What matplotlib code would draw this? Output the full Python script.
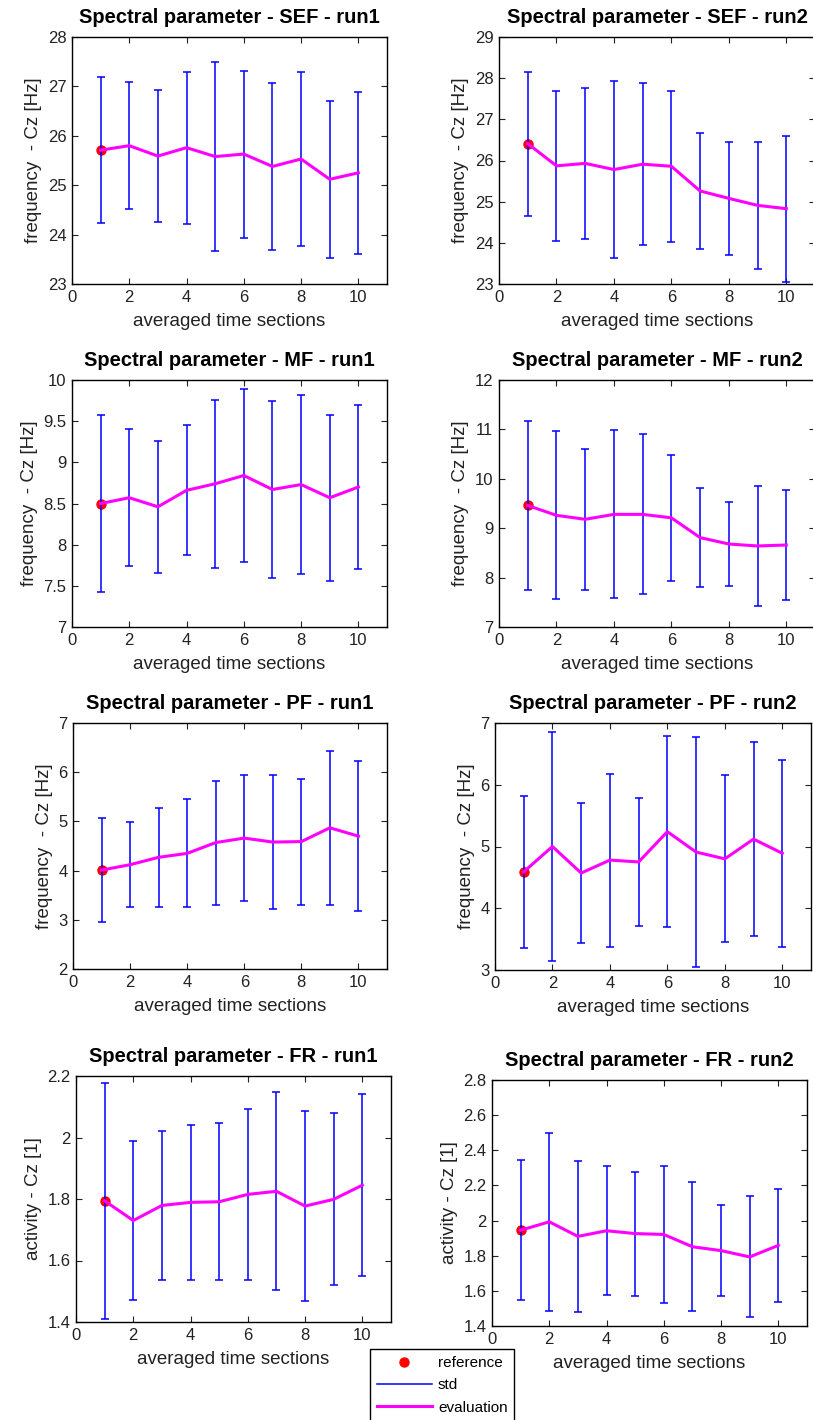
import numpy as np
import matplotlib
matplotlib.use("Agg")
import matplotlib.pyplot as plt
from matplotlib.ticker import FormatStrFormatter, MultipleLocator

plt.rcParams['font.family'] = ['Liberation Sans', 'DejaVu Sans']

sections = np.arange(1, 11)

# SEF
sef_run1_mean = [25.71, 25.80, 25.59, 25.76, 25.58, 25.63, 25.38, 25.53, 25.12, 25.25]
sef_run1_std = [1.48, 1.28, 1.34, 1.54, 1.92, 1.69, 1.69, 1.77, 1.59, 1.64]
sef_run2_mean = [26.41, 25.87, 25.93, 25.78, 25.91, 25.86, 25.26, 25.08, 24.91, 24.83]
sef_run2_std = [1.75, 1.82, 1.83, 2.14, 1.97, 1.84, 1.40, 1.38, 1.55, 1.77]

# MF
mf_run1_mean = [8.50, 8.57, 8.46, 8.66, 8.74, 8.84, 8.67, 8.73, 8.57, 8.70]
mf_run1_std = [1.07, 0.83, 0.80, 0.79, 1.02, 1.05, 1.07, 1.09, 1.01, 1.00]
mf_run2_mean = [9.46, 9.26, 9.18, 9.28, 9.28, 9.21, 8.81, 8.68, 8.64, 8.66]
mf_run2_std = [1.71, 1.70, 1.43, 1.70, 1.62, 1.27, 1.00, 0.86, 1.22, 1.12]

# PF
pf_run1_mean = [4.01, 4.12, 4.27, 4.35, 4.57, 4.66, 4.58, 4.59, 4.87, 4.70]
pf_run1_std = [1.06, 0.86, 1.01, 1.10, 1.26, 1.28, 1.36, 1.28, 1.57, 1.53]
pf_run2_mean = [4.59, 5.00, 4.57, 4.78, 4.75, 5.24, 4.91, 4.80, 5.12, 4.89]
pf_run2_std = [1.23, 1.85, 1.13, 1.40, 1.03, 1.55, 1.86, 1.35, 1.57, 1.51]

# FR
fr_run1_mean = [1.794, 1.730, 1.779, 1.789, 1.791, 1.815, 1.825, 1.777, 1.799, 1.845]
fr_run1_std = [0.384, 0.257, 0.242, 0.251, 0.255, 0.278, 0.322, 0.310, 0.280, 0.295]
fr_run2_mean = [1.945, 1.993, 1.910, 1.942, 1.926, 1.921, 1.851, 1.829, 1.793, 1.859]
fr_run2_std = [0.399, 0.508, 0.429, 0.367, 0.353, 0.389, 0.367, 0.257, 0.344, 0.322]

titles = ['Spectral parameter - SEF - run1', 'Spectral parameter - SEF - run2',
          'Spectral parameter - MF - run1', 'Spectral parameter - MF - run2',
          'Spectral parameter - PF - run1', 'Spectral parameter - PF - run2',
          'Spectral parameter - FR - run1', 'Spectral parameter - FR - run2']
ylabels = ['frequency  - Cz [Hz]'] * 6 + ['activity - Cz [1]'] * 2
means = [sef_run1_mean, sef_run2_mean, mf_run1_mean, mf_run2_mean,
         pf_run1_mean, pf_run2_mean, fr_run1_mean, fr_run2_mean]
stds = [sef_run1_std, sef_run2_std, mf_run1_std, mf_run2_std,
        pf_run1_std, pf_run2_std, fr_run1_std, fr_run2_std]
ylims = [(23, 28), (23, 29), (7, 10), (7, 12), (2, 7), (3, 7), (1.4, 2.2), (1.4, 2.8)]
ysteps = [1, 1, 0.5, 1, 1, 1, 0.2, 0.2]

# axes boxes in pixels: left, right, top, bottom
W, H = 813, 1420
boxes = [(72, 387, 37, 284), (499, 815, 37, 284),
         (72, 387, 380, 627), (499, 815, 380, 627),
         (73, 387, 723, 969), (495, 811, 723, 970),
         (76, 391, 1076, 1322), (492, 807, 1080, 1326)]

fig = plt.figure(figsize=(W / 100, H / 100), dpi=100)

for i in range(8):
    l, r, t, b = boxes[i]
    ax = fig.add_axes([l / W, 1 - b / H, (r - l) / W, (b - t) / H])
    m = np.array(means[i])
    s = np.array(stds[i])
    ref = ax.plot(sections[0], m[0], 'o', color='#ff0000', markersize=6.5,
                  label='reference', zorder=2)
    ax.errorbar(sections, m, yerr=s, fmt='none', ecolor='#0000ff',
                elinewidth=1.1, capsize=3, capthick=1.1, zorder=3)
    ev = ax.plot(sections, m, color='#ff00ff', lw=2.2, label='evaluation', zorder=4)
    ax.set_xlim(0, 11)
    ax.set_ylim(*ylims[i])
    ax.xaxis.set_major_locator(MultipleLocator(2))
    ax.yaxis.set_major_locator(MultipleLocator(ysteps[i]))
    ax.yaxis.set_major_formatter(FormatStrFormatter('%g'))
    ax.tick_params(direction='in', top=True, right=True, length=4,
                   labelsize=12, colors='#222222', pad=4)
    for sp in ax.spines.values():
        sp.set_linewidth(1.0)
    ax.set_title(titles[i], fontsize=14.5, fontweight='bold', pad=10)
    ax.set_xlabel('averaged time sections', fontsize=13.5, color='#222222', labelpad=6)
    ax.set_ylabel(ylabels[i], fontsize=13.5, color='#222222', labelpad=4)

std_handle = plt.Line2D([], [], color='#0000ff', lw=1.1)
fig.legend([ref[0], std_handle, ev[0]], ['reference', 'std', 'evaluation'],
           loc='upper left', bbox_to_anchor=(370 / W, 1 - 1349 / H),
           fontsize=11, frameon=True, fancybox=False, edgecolor='black',
           framealpha=1, handlelength=3.6, handletextpad=0.4,
           labelspacing=0.55, borderpad=0.45, borderaxespad=0)

fig.savefig('out.png', dpi=100)
